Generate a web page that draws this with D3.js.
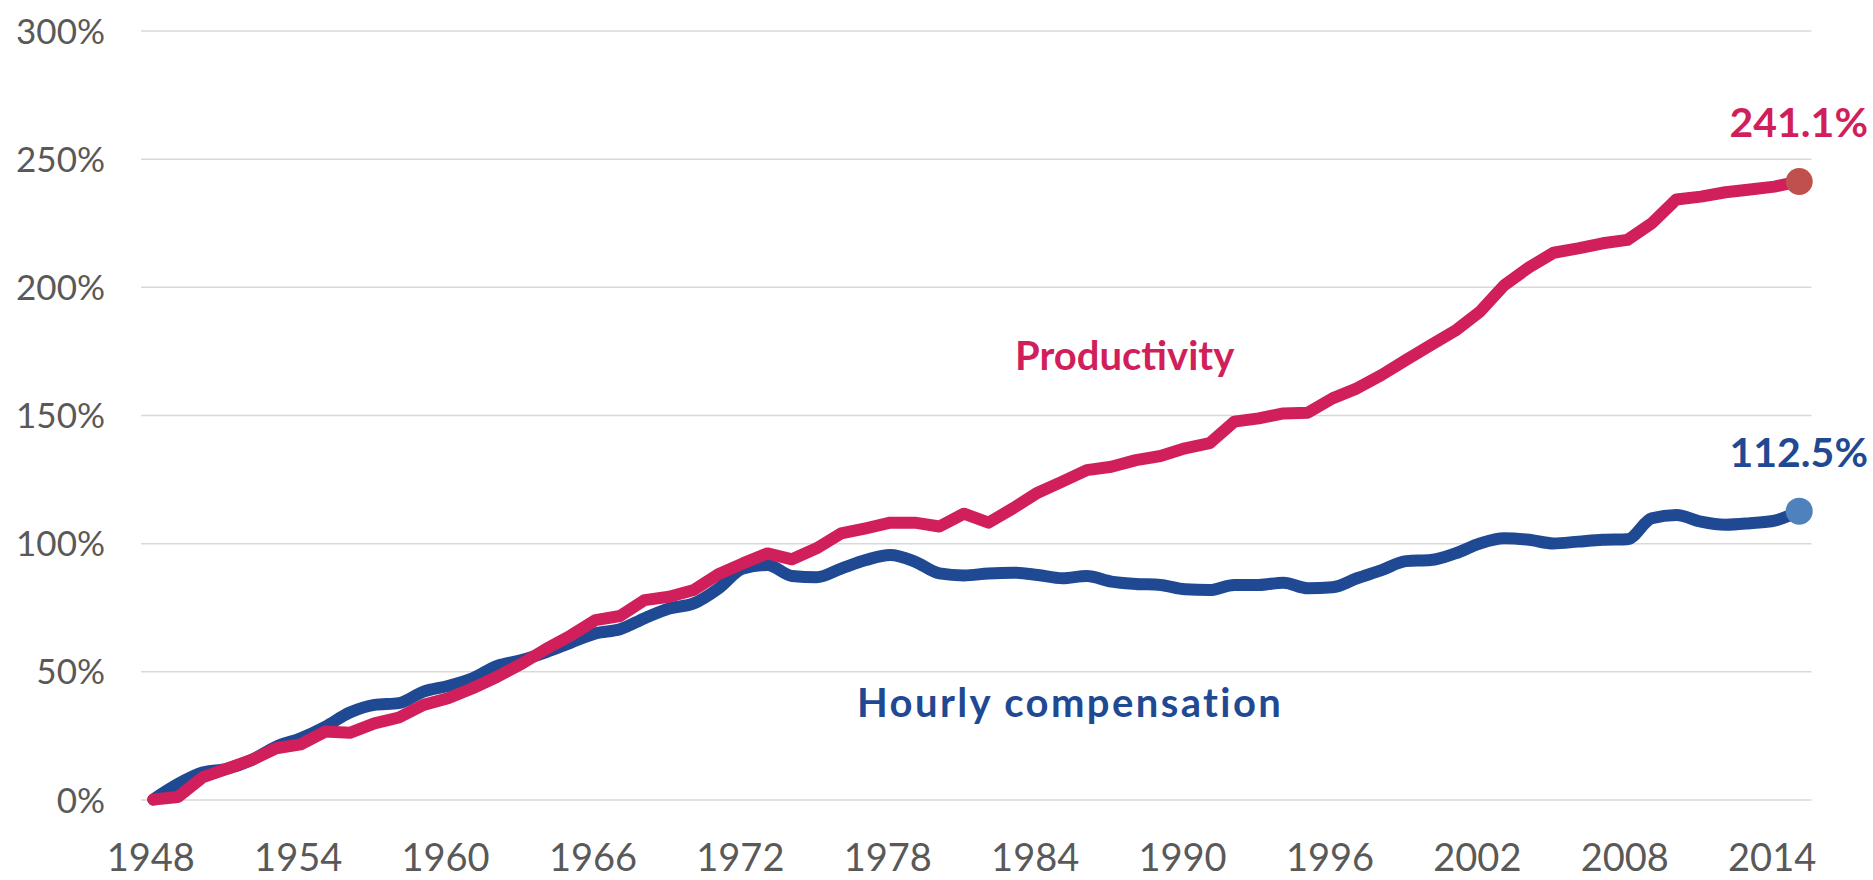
<!DOCTYPE html>
<html>
<head>
<meta charset="utf-8">
<script src="https://cdn.jsdelivr.net/npm/d3@7"></script>
<style>
  html, body { margin: 0; padding: 0; background: #ffffff; }
  svg { display: block; }
</style>
</head>
<body>
<svg id="chart" width="1873" height="880"></svg>
<script>
// ---- data (cumulative % change since 1948) ----
const years = d3.range(1948, 2016);
const productivity = [
  0, 1.0, 8.6, 12.0, 15.4, 20.0, 21.5, 26.5, 26.0, 29.7,
  32.0, 36.9, 39.5, 43.4, 47.9, 53.0, 58.8, 64.0, 70.0, 71.6,
  77.8, 79.1, 81.7, 87.9, 92.1, 96.0, 93.7, 98.0, 103.8, 105.8,
  108.0, 108.0, 106.5, 111.5, 108.0, 113.6, 119.7, 124.0, 128.5, 129.8,
  132.4, 134.0, 137.0, 139.0, 147.4, 148.7, 150.6, 150.9, 156.5, 160.4,
  165.6, 171.5, 177.3, 182.9, 190.3, 200.7, 207.6, 213.3, 215.0, 217.0,
  218.3, 224.8, 234.1, 235.2, 236.9, 238.0, 239.1, 241.1
];
const compensation = [
  0, 6.0, 10.5, 12.0, 15.4, 20.6, 23.9, 28.4, 33.9, 36.9,
  37.6, 42.1, 44.3, 47.3, 52.1, 54.4, 57.5, 61.2, 64.8, 66.4,
  70.7, 74.5, 76.5, 82.3, 90.1, 91.5, 87.2, 86.7, 90.1, 93.4,
  95.4, 92.8, 88.2, 87.4, 88.2, 88.5, 87.6, 86.3, 87.2, 85.0,
  84.1, 83.7, 82.0, 81.7, 83.7, 83.7, 84.6, 82.4, 82.8, 86.3,
  89.5, 93.0, 93.4, 96.0, 99.9, 101.9, 101.3, 99.9, 100.6, 101.3,
  101.5, 109.7, 111.0, 108.4, 107.2, 107.8, 108.8, 112.5
];
const yTicks = [0, 50, 100, 150, 200, 250, 300];
const xTickYears = d3.range(1948, 2016, 6);
const seriesLabels = { productivity: "Productivity", compensation: "Hourly compensation" };
const endLabels = { productivity: "241.1%", compensation: "112.5%" };

(function () {
// ---- layout ----
const pLeft = 141, pRight = 1811.5, pTop = 30.5, pBottom = 799.5;
const RED = "#d01f5a", BLUE = "#1f4a93";

const svg = d3.select("#chart");
const x = d3.scalePoint().domain(years).range([pLeft, pRight]).padding(0.5);
const y = d3.scaleLinear().domain([0, 300]).range([pBottom, pTop]);

// gridlines + y labels
const yAxis = d3.axisLeft(y)
  .tickValues(yTicks)
  .tickSize(-(pRight - pLeft))
  .tickPadding(36)
  .tickFormat(d => d + "%");
const gy = svg.append("g").attr("transform", `translate(${pLeft},0)`).call(yAxis);
gy.select(".domain").remove();
gy.selectAll(".tick line").attr("stroke", "#d9d9d9").attr("stroke-width", 1.5);
gy.selectAll(".tick text")
  .attr("fill", "#595959")
  .attr("font-family", "Lato, 'Open Sans', sans-serif")
  .attr("font-size", 35)
  .attr("dy", "0.36em");

// x labels
const xAxis = d3.axisBottom(x).tickValues(xTickYears).tickSize(0).tickPadding(0);
const gx = svg.append("g").attr("transform", `translate(0,${pBottom})`).call(xAxis);
gx.select(".domain").remove();
gx.selectAll(".tick text")
  .attr("fill", "#595959")
  .attr("font-family", "Lato, 'Open Sans', sans-serif")
  .attr("font-size", 38)
  .attr("y", 71)
  .attr("dy", 0)
  .attr("dx", -3);

// lines
const lineLinear = d3.line().x((d, i) => x(years[i])).y(d => y(d));
const lineSmooth = d3.line().x((d, i) => x(years[i])).y(d => y(d)).curve(d3.curveMonotoneX);

svg.append("path").datum(compensation)
  .attr("d", lineSmooth)
  .attr("fill", "none").attr("stroke", BLUE).attr("stroke-width", 12)
  .attr("stroke-linejoin", "round").attr("stroke-linecap", "round");
svg.append("path").datum(productivity)
  .attr("d", lineLinear)
  .attr("fill", "none").attr("stroke", RED).attr("stroke-width", 12)
  .attr("stroke-linejoin", "round").attr("stroke-linecap", "round");

// end dots
const lastYear = years[years.length - 1];
svg.append("circle").attr("cx", x(lastYear)).attr("cy", y(productivity[productivity.length - 1]))
  .attr("r", 13.5).attr("fill", "#c0504d");
svg.append("circle").attr("cx", x(lastYear)).attr("cy", y(compensation[compensation.length - 1]))
  .attr("r", 13.5).attr("fill", "#4f81bd");

// annotations
const fontB = "Lato, 'Open Sans', sans-serif";
svg.append("text").text(seriesLabels.productivity)
  .attr("x", 1015).attr("y", 370)
  .attr("fill", RED).attr("font-family", fontB).attr("font-weight", "bold").attr("font-size", 40);
svg.append("text").text(seriesLabels.compensation)
  .attr("x", 857).attr("y", 717)
  .attr("letter-spacing", 2.4)
  .attr("fill", BLUE).attr("font-family", fontB).attr("font-weight", "bold").attr("font-size", 40);
svg.append("text").text(endLabels.productivity)
  .attr("x", 1868).attr("y", 137).attr("text-anchor", "end")
  .attr("fill", RED).attr("font-family", fontB).attr("font-weight", "bold").attr("font-size", 41);
svg.append("text").text(endLabels.compensation)
  .attr("x", 1868).attr("y", 467).attr("text-anchor", "end")
  .attr("fill", BLUE).attr("font-family", fontB).attr("font-weight", "bold").attr("font-size", 41);
})();
</script>
</body>
</html>
